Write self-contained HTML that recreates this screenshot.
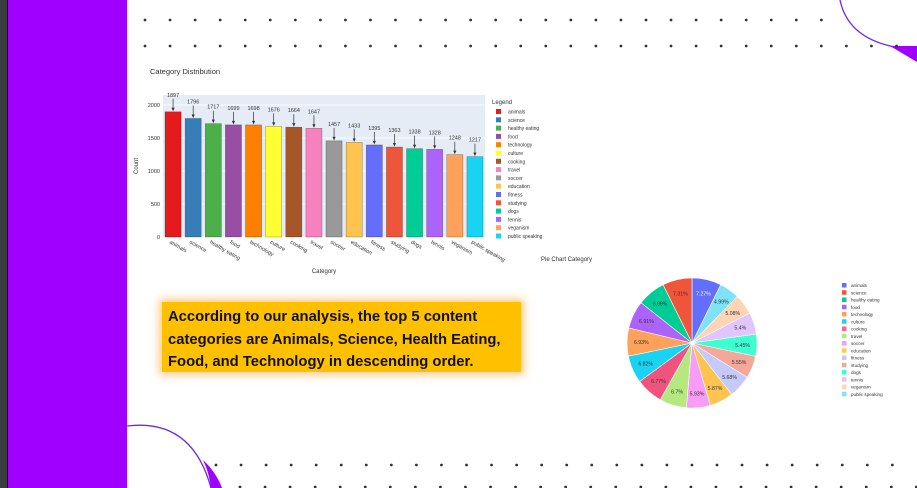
<!DOCTYPE html>
<html><head><meta charset="utf-8"><style>
html,body{margin:0;padding:0;width:917px;height:488px;overflow:hidden;background:#fff;font-family:"Liberation Sans",sans-serif}
#stage{position:relative;width:917px;height:488px}
#box{position:absolute;left:162px;top:302px;width:359px;height:70px;background:#ffc000;box-shadow:0 0 8px 3px rgba(255,170,60,.6);box-sizing:border-box;padding:4px 6px;font-weight:bold;font-size:14.8px;line-height:22.5px;color:#111}
</style></head><body>
<div id="stage">
<svg id="bg" width="917" height="488" style="position:absolute;left:0;top:0">
<rect x="0" y="0" width="7" height="488" fill="#3a3c3e"/>
<rect x="7" y="0" width="1" height="488" fill="#111"/>
<rect x="8" y="0" width="119" height="488" fill="#a000ff"/>
<path d="M127,426 Q192,418 211,488" fill="none" stroke="#6a2cf0" stroke-width="1.3"/>
<path d="M203,460 Q216,472 222,488 L211,488 Q209,472 203,460 Z" fill="#a000ff"/>
<path d="M840,0 Q848,38 895,47 L917,47" fill="none" stroke="#6a2cf0" stroke-width="1.3"/>
<path d="M890,46 L917,46 L917,62 Z" fill="#a000ff"/>
<g id="dots" fill="#333"></g>
</svg>
<svg id="chart" width="917" height="488" style="position:absolute;left:0;top:0"></svg>
<div id="box">According to our analysis, the top 5 content categories are Animals, Science, Health Eating, Food, and Technology in descending order.</div>
</div>
<script>
const categories=["animals","science","healthy eating","food","technology","culture","cooking","travel","soccer","education","fitness","studying","dogs","tennis","veganism","public speaking"];
const counts=[1897,1796,1717,1699,1698,1676,1664,1647,1457,1433,1395,1363,1338,1328,1248,1217];
const barColors=["#e41a1c","#377eb8","#4daf4a","#984ea3","#ff7f00","#ffff33","#a65628","#f781bf","#999999","#fec44f","#636efa","#ef553b","#00cc96","#ab63fa","#ffa15a","#19d3f3"];
const yTicks=[0,500,1000,1500,2000];
const pieLabels=["animals","public speaking","veganism","tennis","dogs","studying","fitness","education","soccer","travel","cooking","culture","technology","food","healthy eating","science"];
const piePct=[7.27,4.99,5.08,5.4,5.45,5.55,5.68,5.87,5.93,6.7,6.77,6.82,6.93,6.91,6.99,7.31];
const pieColors=["#636efa","#7fe3f7","#ffd5b5","#e2c4ff","#3dffd0","#f5a89a","#c6c9fb","#fec44f","#f89cf5","#b6e880","#f0547e","#19d3f3","#ffa15a","#ab63fa","#00cc96","#ef553b"];
const pieLegend=["animals","science","healthy eating","food","technology","culture","cooking","travel","soccer","education","fitness","studying","dogs","tennis","veganism","public speaking"];
const pieLegendColors=["#636efa","#ef553b","#00cc96","#ab63fa","#ffa15a","#19d3f3","#ff6692","#b6e880","#ff97ff","#fecb52","#c6c9fb","#f5a89a","#3dffd0","#e2c4ff","#ffd5b5","#7fe3f7"];
const NS="http://www.w3.org/2000/svg";
function mk(p,t,a,txt){const e=document.createElementNS(NS,t);for(const k in a)e.setAttribute(k,a[k]);if(txt!==undefined)e.textContent=txt;p.appendChild(e);return e;}
const dg=document.getElementById('dots');
for(let x=145;x<=835;x+=25.05){const d=mk(dg,'circle',{cx:x,cy:20,r:1.4});}
for(let x=145;x<=900;x+=25.05){const d=mk(dg,'circle',{cx:x,cy:46,r:1.4});}
for(let x=216;x<=905;x+=25.05){mk(dg,'circle',{cx:x,cy:465,r:1.4});mk(dg,'circle',{cx:x+24,cy:487,r:1.4});}
const s=document.getElementById('chart');
const px0=163,px1=485,py0=95,base=237;
const yS=v=>base-v*(132/2000);
const pitch=(px1-px0)/categories.length;
const xS=i=>px0+pitch*(i+0.5);
let t=mk(s,'text',{x:150,y:74,'font-size':7.5,fill:'#333'},'Category Distribution');

let bgp=mk(s,'rect',{x:px0,y:py0,width:px1-px0,height:base-py0,fill:'#e5ecf6'});

yTicks.forEach(v=>{
  mk(s,'line',{x1:px0,x2:px1,y1:yS(v),y2:yS(v),stroke:'#fff','stroke-width':0.8});
  const l=mk(s,'text',{x:px0-3,y:yS(v)+2,'font-size':5.5,'text-anchor':'end',fill:'#333'},String(v));
  
});
categories.forEach((c,i)=>{
  const x=xS(i),w=pitch*0.8,y=yS(counts[i]);
  const b=mk(s,'rect',{x:x-w/2,y:y,width:w,height:base-y,fill:barColors[i],stroke:'rgba(0,0,0,0.35)','stroke-width':0.6});
  
  mk(s,'line',{x1:x,x2:x,y1:y-13,y2:y-2,stroke:'#333','stroke-width':0.7});
  mk(s,'path',{d:`M${x-1.6},${y-4} L${x},${y-0.5} L${x+1.6},${y-4} Z`,fill:'#333'});
  const v=mk(s,'text',{x:x,y:y-15,'font-size':5.5,'text-anchor':'middle',fill:'#333'},String(counts[i]));
  
  const tl=mk(s,'text',{x:x-4,y:base+6,'font-size':5.5,fill:'#333',transform:`rotate(30 ${x-4} ${base+6})`},c);
  
});
t=mk(s,'text',{x:(px0+px1)/2,y:273,'font-size':6,'text-anchor':'middle',fill:'#333'},'Category');

t=mk(s,'text',{x:138,y:166,'font-size':6,'text-anchor':'middle',fill:'#333',transform:'rotate(-90 138 166)'},'Count');

t=mk(s,'text',{x:492,y:104,'font-size':6,fill:'#333'},'Legend');

categories.forEach((c,i)=>{
  const y=109+i*8.3;
  const g=mk(s,'g',{});
  
  mk(g,'rect',{x:496,y:y,width:5,height:5,fill:barColors[i]});
  mk(g,'text',{x:508,y:y+4.5,'font-size':5,fill:'#333'},c);
});
t=mk(s,'text',{x:541,y:261,'font-size':6,fill:'#333'},'Pie Chart Category');

const cx=692,cy=343,R=65;
const tot=piePct.reduce((a,b)=>a+b,0);
let a0=0;
piePct.forEach((p,i)=>{
  const a1=a0+p/tot*2*Math.PI;
  const pt=a=>[cx+R*Math.sin(a),cy-R*Math.cos(a)];
  const [x0,y0]=pt(a0),[x1,y1]=pt(a1);
  const sl=mk(s,'path',{d:`M${cx},${cy} L${x0},${y0} A${R},${R} 0 ${a1-a0>Math.PI?1:0} 1 ${x1},${y1} Z`,fill:pieColors[i],stroke:'#fff','stroke-width':0.6});
  
  const am=(a0+a1)/2,r2=R*0.78;
  const lb=mk(s,'text',{x:cx+r2*Math.sin(am),y:cy-r2*Math.cos(am)+2,'font-size':5.2,'text-anchor':'middle',fill:i==0?'#fff':'#333'},p+'%');
  
  a0=a1;
});
pieLegend.forEach((c,i)=>{
  const y=283+i*7.25;
  const g=mk(s,'g',{});
  
  mk(g,'rect',{x:842,y:y,width:4.5,height:4.5,fill:pieLegendColors[i]});
  mk(g,'text',{x:851,y:y+4.2,'font-size':4.6,fill:'#333'},c);
});
</script>
</body></html>
